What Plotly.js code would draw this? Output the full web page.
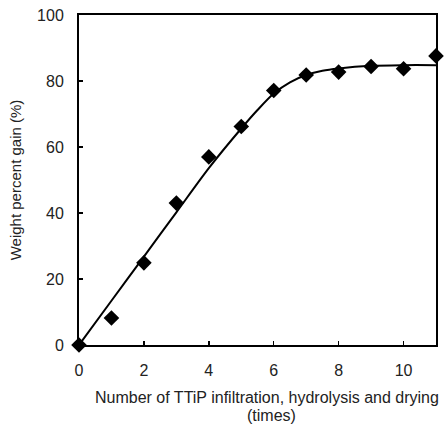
<!DOCTYPE html>
<html>
<head>
<meta charset="utf-8">
<script src="https://cdn.plot.ly/plotly-3.0.1.min.js"></script>
<style>html,body{margin:0;padding:0;background:#fff;}#chart{width:446px;height:428px;}</style>
</head>
<body>
<div id="chart"></div>
<script>
// Measured data (markers)
const cycles = [0, 1, 2, 3, 4, 5, 6, 7, 8, 9, 10, 11];
const weightGain = [0, 8.2, 24.9, 43.0, 57.0, 66.2, 77.1, 81.8, 82.7, 84.4, 83.7, 87.6];

// Fitted curve
const fitX = [0, 1, 2, 3, 4, 5, 5.5, 6, 6.5, 7, 7.5, 8, 9, 10, 11];
const fitY = [0, 13.4, 26.8, 40.2, 53.6, 65.6, 71.2, 76.2, 79.6, 81.8, 83.1, 83.8, 84.6, 84.8, 84.8];

const xTicks = [0, 2, 4, 6, 8, 10];
const yTicks = [0, 20, 40, 60, 80, 100];

const font = 'Liberation Sans, Arial, sans-serif';

const traces = [
  {x: fitX, y: fitY, mode: 'lines', line: {color: '#000', width: 2, shape: 'spline', smoothing: 0.8}, hoverinfo: 'skip', cliponaxis: false},
  {x: cycles, y: weightGain, mode: 'markers', marker: {symbol: 'diamond', size: 12, color: '#000'}, cliponaxis: false}
];

const layout = {
  width: 446, height: 428,
  margin: {l: 79, r: 10, t: 15, b: 83},
  paper_bgcolor: '#fff', plot_bgcolor: '#fff',
  showlegend: false,
  font: {family: font, color: '#111', size: 13},
  xaxis: {
    range: [0, 11], tickvals: xTicks, ticktext: xTicks.map(String),
    ticks: 'inside', ticklen: 4, tickwidth: 1.5, tickcolor: '#000',
    showline: true, linecolor: '#000', linewidth: 2, mirror: true,
    showgrid: false, zeroline: false,
    ticklabelstandoff: 10,
    tickfont: {family: font, size: 16, color: '#222'}
  },
  yaxis: {
    range: [0, 100], tickvals: yTicks, ticktext: yTicks.map(String),
    ticks: 'inside', ticklen: 4, tickwidth: 1.5, tickcolor: '#000',
    showline: true, linecolor: '#000', linewidth: 2, mirror: true,
    showgrid: false, zeroline: false,
    ticklabelstandoff: 10,
    tickfont: {family: font, size: 16, color: '#222'},
    title: {text: 'Weight percent gain (%)', font: {family: font, size: 15, color: '#222'}, standoff: 12}
  },
  annotations: [
    {text: 'Number of TTiP infiltration, hydrolysis and drying', xref: 'paper', yref: 'paper', x: 0.527, y: -0.158, xanchor: 'center', yanchor: 'middle', showarrow: false, font: {family: font, size: 16, color: '#222'}},
    {text: '(times)', xref: 'paper', yref: 'paper', x: 0.54, y: -0.213, xanchor: 'center', yanchor: 'middle', showarrow: false, font: {family: font, size: 16, color: '#222'}}
  ]
};

Plotly.newPlot('chart', traces, layout, {displayModeBar: false, staticPlot: true});
</script>
</body>
</html>
